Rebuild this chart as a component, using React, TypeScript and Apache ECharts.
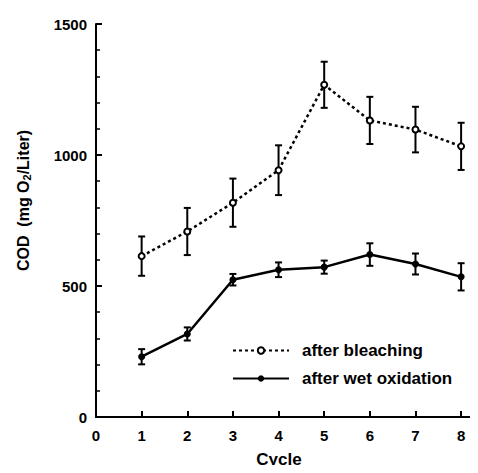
import React, { useEffect, useRef } from "react";
import * as echarts from "echarts";

const cycles = [1, 2, 3, 4, 5, 6, 7, 8];
const bleachingMean = [614, 708, 818, 942, 1268, 1132, 1097, 1033];
const bleachingErr = [75, 90, 92, 95, 88, 90, 87, 90];
const wetMean = [230, 317, 524, 562, 572, 620, 584, 535];
const wetErr = [29, 25, 22, 28, 25, 43, 40, 52];
const xTickValues = [0, 1, 2, 3, 4, 5, 6, 7, 8];

const FONT = "'Liberation Sans', Arial, Helvetica, sans-serif";

export default function App() {
  const ref = useRef<HTMLDivElement>(null);

  useEffect(() => {
    if (!ref.current) return;
    const chart = echarts.init(ref.current, undefined, { renderer: "svg" });

    const bleachPts = cycles.map((c, i) => [c, bleachingMean[i]]);
    const wetPts = cycles.map((c, i) => [c, wetMean[i]]);
    const bleachBars = cycles.map((c, i) => [c, bleachingMean[i] - bleachingErr[i], bleachingMean[i] + bleachingErr[i]]);
    const wetBars = cycles.map((c, i) => [c, wetMean[i] - wetErr[i], wetMean[i] + wetErr[i]]);

    const errRender = (hw: number) => (params: any, api: any) => {
      const x = api.value(0);
      const lo = api.coord([x, api.value(1)]);
      const hi = api.coord([x, api.value(2)]);
      const st = { stroke: "#000", lineWidth: 2 };
      return {
        type: "group",
        children: [
          { type: "line", shape: { x1: lo[0], y1: lo[1], x2: hi[0], y2: hi[1] }, style: st },
          { type: "line", shape: { x1: lo[0] - hw, y1: lo[1], x2: lo[0] + hw, y2: lo[1] }, style: st },
          { type: "line", shape: { x1: hi[0] - hw, y1: hi[1], x2: hi[0] + hw, y2: hi[1] }, style: st },
        ],
      };
    };

    const tickLabel = { color: "#000", fontSize: 15, fontWeight: "bold", fontFamily: FONT };

    chart.setOption({
      animation: false,
      backgroundColor: "#fff",
      textStyle: { fontFamily: FONT },
      grid: { left: 96, top: 24, right: 0, bottom: 54, containLabel: false },
      legend: {
        data: ["after bleaching", "after wet oxidation"],
        orient: "vertical",
        left: 232,
        top: 342,
        padding: 0,
        itemWidth: 56,
        itemHeight: 8,
        itemGap: 11,
        textStyle: { color: "#000", fontSize: 17, fontWeight: "bold", fontFamily: FONT, padding: [0, 0, 0, 8] },
      },
      xAxis: [
        {
          type: "value",
          min: 0,
          max: 8.37,
          interval: 1,
          name: "Cycle",
          nameLocation: "middle",
          nameGap: 34,
          nameTextStyle: { color: "#000", fontSize: 17, fontWeight: "bold", fontFamily: FONT, padding: [0, 16, 0, 0] },
          axisLine: { show: true, onZero: false, lineStyle: { color: "#000", width: 2 } },
          axisTick: { show: true, inside: true, length: 6, customValues: xTickValues, lineStyle: { color: "#000", width: 2 } },
          axisLabel: { ...tickLabel, margin: 11, customValues: xTickValues, formatter: (v: number) => String(v) },
          splitLine: { show: false },
        },
        {
          type: "value",
          position: "top",
          min: 0,
          max: 8.37,
          axisLine: { show: true, lineStyle: { color: "#000", width: 2 } },
          axisTick: { show: false },
          axisLabel: { show: false },
          splitLine: { show: false },
        },
      ],
      yAxis: {
        type: "value",
        min: 0,
        max: 1500,
        interval: 500,
        name: "COD  (mg O{sub|2}/Liter)",
        nameLocation: "middle",
        nameRotate: 90,
        nameGap: 64,
        nameTextStyle: {
          color: "#000",
          fontSize: 16,
          fontWeight: "bold",
          fontFamily: FONT,
          padding: [0, 0, 0, 40],
          rich: {
            sub: { fontSize: 11, fontWeight: "bold", fontFamily: FONT, color: "#000", verticalAlign: "bottom", padding: [7, 0, 0, 0] },
          },
        },
        axisLine: { show: true, onZero: false, lineStyle: { color: "#000", width: 2 } },
        axisTick: { show: true, inside: true, length: 6, lineStyle: { color: "#000", width: 2 } },
        minorTick: { show: true, splitNumber: 5, length: 4, lineStyle: { color: "#000", width: 1.5 } },
        axisLabel: { ...tickLabel, margin: 9, formatter: (v: number) => String(v) },
        splitLine: { show: false },
      },
      series: [
        {
          type: "custom",
          name: "bleachErr",
          xAxisIndex: 0,
          renderItem: errRender(3.5),
          data: bleachBars,
          encode: { x: 0, y: [1, 2] },
          z: 1,
          silent: true,
        },
        {
          type: "custom",
          name: "wetErr",
          xAxisIndex: 0,
          renderItem: errRender(3.5),
          data: wetBars,
          encode: { x: 0, y: [1, 2] },
          z: 1,
          silent: true,
        },
        {
          type: "line",
          name: "after bleaching",
          xAxisIndex: 0,
          data: bleachPts,
          symbol: "emptyCircle",
          symbolSize: 6,
          showAllSymbol: true,
          lineStyle: { color: "#000", width: 2.5, type: [3, 3] },
          itemStyle: { color: "#000", borderColor: "#000", borderWidth: 2 },
          z: 3,
        },
        {
          type: "line",
          name: "after wet oxidation",
          xAxisIndex: 0,
          data: wetPts,
          symbol: "circle",
          symbolSize: 7,
          showAllSymbol: true,
          lineStyle: { color: "#000", width: 2.5, type: "solid" },
          itemStyle: { color: "#000" },
          z: 3,
        },
      ],
    });

    return () => chart.dispose();
  }, []);

  return <div ref={ref} style={{ width: 478, height: 473, margin: -8 }} />;
}
